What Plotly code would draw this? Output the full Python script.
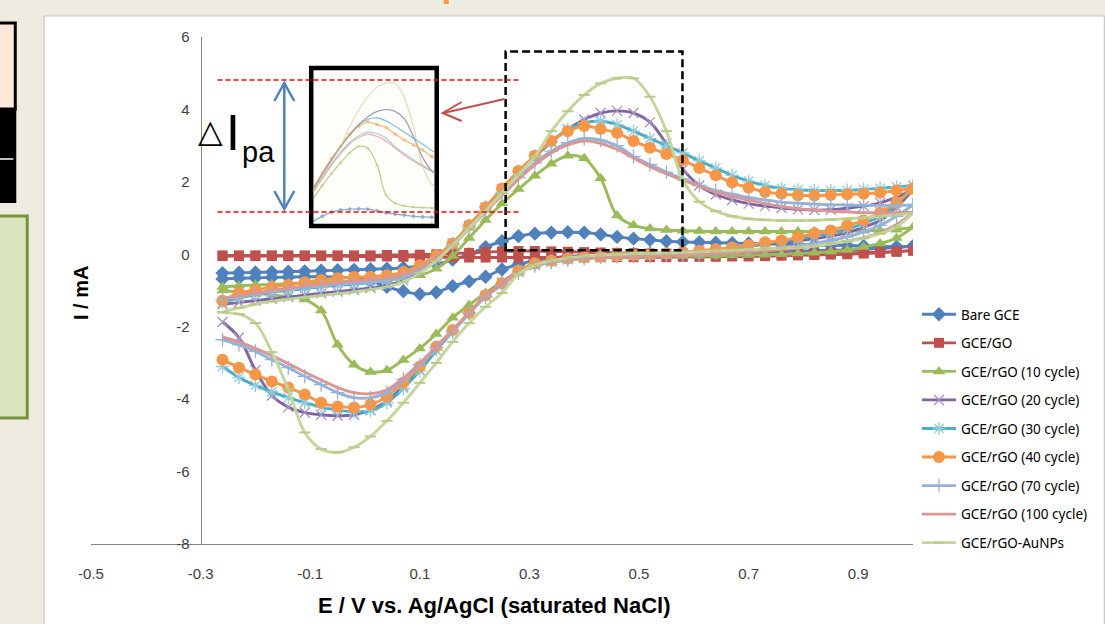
import plotly.graph_objects as go

# ---------------- data ----------------
E = [-0.26, -0.23, -0.20, -0.17, -0.14, -0.11, -0.08, -0.05, -0.02, 0.01, 0.04,
     0.07, 0.10, 0.13, 0.16, 0.19, 0.22, 0.25, 0.28, 0.31, 0.34, 0.37, 0.40, 0.43,
     0.46, 0.49, 0.52, 0.55, 0.58, 0.61, 0.64, 0.67, 0.70, 0.73, 0.76, 0.79, 0.82,
     0.85, 0.88, 0.91, 0.94, 0.97, 1.00]

bare_fwd = [-0.52, -0.51, -0.50, -0.49, -0.48, -0.47, -0.45, -0.44, -0.43, -0.41, -0.40, -0.37, -0.33, -0.27, -0.15, 0.0, 0.2, 0.36, 0.5, 0.57, 0.6, 0.61, 0.6, 0.55, 0.48, 0.43, 0.4, 0.36, 0.34, 0.33, 0.32, 0.31, 0.3, 0.29, 0.28, 0.27, 0.26, 0.25, 0.24, 0.23, 0.22, 0.21, 0.22]
bare_rev = [-0.68, -0.66, -0.65, -0.64, -0.63, -0.62, -0.62, -0.63, -0.66, -0.73, -0.9, -1.02, -1.1, -1.05, -0.88, -0.75, -0.62, -0.42, -0.28, -0.17, -0.1, -0.06, -0.03, -0.01, 0.0, 0.01, 0.02, 0.03, 0.04, 0.05, 0.05, 0.06, 0.06, 0.07, 0.08, 0.09, 0.1, 0.11, 0.12, 0.14, 0.16, 0.19, 0.22]

go_fwd = [-0.03, -0.03, -0.03, -0.03, -0.03, -0.03, -0.03, -0.03, -0.03, -0.03, -0.02, -0.02, -0.01, 0.0, 0.02, 0.04, 0.06, 0.08, 0.09, 0.09, 0.08, 0.07, 0.06, 0.05, 0.04, 0.03, 0.02, 0.02, 0.01, 0.01, 0.0, 0.0, 0.0, 0.0, 0.01, 0.01, 0.02, 0.03, 0.04, 0.05, 0.06, 0.08, 0.1]
go_rev = [-0.05, -0.05, -0.05, -0.05, -0.05, -0.05, -0.05, -0.05, -0.06, -0.06, -0.06, -0.07, -0.07, -0.08, -0.08, -0.09, -0.09, -0.09, -0.09, -0.09, -0.09, -0.08, -0.08, -0.08, -0.08, -0.08, -0.08, -0.08, -0.07, -0.07, -0.07, -0.06, -0.06, -0.05, -0.04, -0.03, -0.02, -0.01, 0.0, 0.02, 0.04, 0.07, 0.1]

c10_fwd = [-0.90, -0.87, -0.85, -0.83, -0.81, -0.79, -0.77, -0.75, -0.73, -0.72, -0.70, -0.66, -0.58, -0.4, -0.05, 0.45, 0.95, 1.4, 1.8, 2.17, 2.5, 2.72, 2.65, 2.1, 1.07, 0.8, 0.71, 0.67, 0.65, 0.64, 0.63, 0.63, 0.63, 0.63, 0.63, 0.63, 0.63, 0.63, 0.64, 0.65, 0.66, 0.68, 0.75]
c10_rev = [-1.0, -1.04, -1.08, -1.12, -1.17, -1.25, -1.55, -2.5, -3.05, -3.25, -3.2, -2.92, -2.6, -2.2, -1.75, -1.4, -1.07, -0.75, -0.5, -0.32, -0.22, -0.16, -0.12, -0.1, -0.08, -0.07, -0.06, -0.05, -0.05, -0.04, -0.04, -0.03, -0.02, -0.01, 0.0, 0.02, 0.04, 0.07, 0.12, 0.2, 0.3, 0.45, 0.75]

c20_fwd = [-1.38, -1.33, -1.28, -1.23, -1.18, -1.13, -1.08, -1.03, -0.98, -0.93, -0.86, -0.72, -0.5, -0.15, 0.3, 0.78, 1.28, 1.78, 2.25, 2.7, 3.1, 3.45, 3.72, 3.9, 3.96, 3.9, 3.65, 3.05, 2.35, 1.9, 1.65, 1.5, 1.4, 1.33, 1.28, 1.24, 1.22, 1.23, 1.27, 1.33, 1.42, 1.58, 1.78]
c20_rev = [-1.87, -2.3, -3.2, -3.9, -4.22, -4.37, -4.43, -4.46, -4.43, -4.3, -4.05, -3.65, -3.2, -2.65, -2.12, -1.62, -1.15, -0.78, -0.48, -0.3, -0.2, -0.14, -0.1, -0.08, -0.06, -0.04, -0.02, 0.0, 0.02, 0.05, 0.1, 0.15, 0.22, 0.28, 0.33, 0.38, 0.43, 0.5, 0.6, 0.75, 0.93, 1.3, 1.78]

c30_fwd = [-1.32, -1.2, -1.12, -1.05, -1.0, -0.95, -0.9, -0.86, -0.82, -0.78, -0.72, -0.6, -0.4, -0.08, 0.3, 0.8, 1.3, 1.8, 2.28, 2.72, 3.12, 3.45, 3.63, 3.68, 3.58, 3.4, 3.2, 3.0, 2.8, 2.58, 2.38, 2.18, 2.02, 1.9, 1.82, 1.78, 1.76, 1.76, 1.77, 1.79, 1.82, 1.86, 1.9]
c30_rev = [-3.1, -3.4, -3.62, -3.8, -3.96, -4.1, -4.22, -4.3, -4.35, -4.32, -4.1, -3.7, -3.22, -2.65, -2.13, -1.63, -1.15, -0.8, -0.47, -0.28, -0.19, -0.13, -0.1, -0.07, -0.05, -0.03, -0.01, 0.01, 0.04, 0.08, 0.12, 0.17, 0.23, 0.3, 0.36, 0.43, 0.5, 0.58, 0.7, 0.85, 1.05, 1.4, 1.9]

c40_fwd = [-1.28, -1.07, -0.99, -0.9, -0.85, -0.77, -0.71, -0.66, -0.63, -0.62, -0.58, -0.49, -0.3, -0.03, 0.3, 0.8, 1.3, 1.82, 2.3, 2.72, 3.13, 3.4, 3.54, 3.46, 3.35, 3.13, 2.94, 2.77, 2.6, 2.38, 2.18, 1.98, 1.84, 1.72, 1.67, 1.63, 1.62, 1.64, 1.66, 1.67, 1.7, 1.76, 1.81]
c40_rev = [-2.91, -3.13, -3.32, -3.51, -3.68, -3.87, -4.1, -4.2, -4.23, -4.15, -3.93, -3.54, -3.1, -2.55, -2.09, -1.62, -1.13, -0.8, -0.45, -0.25, -0.18, -0.12, -0.08, -0.06, -0.04, -0.02, 0.0, 0.03, 0.06, 0.1, 0.14, 0.19, 0.25, 0.33, 0.38, 0.47, 0.58, 0.66, 0.8, 0.93, 1.15, 1.43, 1.81]

c70_fwd = [-1.25, -1.18, -1.1, -1.03, -0.97, -0.92, -0.87, -0.83, -0.8, -0.77, -0.72, -0.62, -0.42, -0.12, 0.25, 0.72, 1.2, 1.68, 2.12, 2.52, 2.85, 3.08, 3.2, 3.15, 3.0, 2.7, 2.48, 2.27, 2.08, 1.9, 1.76, 1.66, 1.57, 1.5, 1.44, 1.41, 1.39, 1.37, 1.36, 1.35, 1.35, 1.35, 1.36]
c70_rev = [-2.36, -2.5, -2.68, -2.91, -3.13, -3.37, -3.6, -3.82, -3.96, -3.96, -3.82, -3.46, -3.05, -2.58, -2.14, -1.62, -1.18, -0.85, -0.52, -0.32, -0.22, -0.15, -0.11, -0.08, -0.06, -0.05, -0.04, -0.03, -0.01, 0.01, 0.04, 0.07, 0.1, 0.14, 0.18, 0.23, 0.3, 0.38, 0.48, 0.62, 0.8, 1.05, 1.36]

c100_fwd = [-1.22, -1.15, -1.07, -1.0, -0.94, -0.88, -0.83, -0.78, -0.74, -0.7, -0.65, -0.56, -0.38, -0.1, 0.25, 0.7, 1.17, 1.63, 2.07, 2.47, 2.8, 3.02, 3.13, 3.06, 2.9, 2.66, 2.42, 2.22, 2.05, 1.88, 1.72, 1.6, 1.5, 1.4, 1.32, 1.26, 1.22, 1.19, 1.17, 1.15, 1.15, 1.15, 1.16]
c100_rev = [-2.28, -2.42, -2.6, -2.8, -3.02, -3.25, -3.47, -3.68, -3.82, -3.85, -3.74, -3.42, -3.0, -2.55, -2.1, -1.6, -1.15, -0.82, -0.5, -0.3, -0.2, -0.14, -0.1, -0.08, -0.06, -0.05, -0.04, -0.03, -0.02, 0.0, 0.02, 0.04, 0.07, 0.1, 0.13, 0.17, 0.22, 0.28, 0.36, 0.46, 0.6, 0.82, 1.16]

au_fwd = [-1.6, -1.48, -1.38, -1.3, -1.24, -1.19, -1.14, -1.09, -1.04, -0.98, -0.9, -0.76, -0.52, -0.18, 0.25, 0.72, 1.2, 1.7, 2.2, 2.7, 3.4, 3.95, 4.4, 4.72, 4.86, 4.86, 4.35, 3.4, 2.05, 1.45, 1.19, 1.05, 0.98, 0.95, 0.93, 0.93, 0.94, 0.96, 0.98, 1.01, 1.05, 1.09, 1.13]
au_rev = [-1.6, -1.65, -1.9, -2.7, -3.73, -4.92, -5.38, -5.47, -5.33, -5.03, -4.6, -4.1, -3.55, -3.0, -2.42, -1.9, -1.45, -1.07, -0.55, -0.3, -0.18, -0.1, -0.05, -0.02, 0.0, 0.02, 0.03, 0.04, 0.05, 0.07, 0.09, 0.11, 0.13, 0.15, 0.17, 0.19, 0.23, 0.3, 0.36, 0.44, 0.57, 0.76, 1.13]

names = ["Bare GCE", "GCE/GO", "GCE/rGO (10 cycle)", "GCE/rGO (20 cycle)",
         "GCE/rGO (30 cycle)", "GCE/rGO (40 cycle)", "GCE/rGO (70 cycle)",
         "GCE/rGO (100 cycle)", "GCE/rGO-AuNPs"]
fwd_data = [bare_fwd, go_fwd, c10_fwd, c20_fwd, c30_fwd, c40_fwd, c70_fwd, c100_fwd, au_fwd]
rev_data = [bare_rev, go_rev, c10_rev, c20_rev, c30_rev, c40_rev, c70_rev, c100_rev, au_rev]

x_ticks = [-0.5, -0.3, -0.1, 0.1, 0.3, 0.5, 0.7, 0.9]
x_tick_text = ["-0.5", "-0.3", "-0.1", "0.1", "0.3", "0.5", "0.7", "0.9"]
y_ticks = [-8, -6, -4, -2, 0, 2, 4, 6]
y_tick_text = ["-8", "-6", "-4", "-2", "0", "2", "4", "6"]

# ---------------- styles ----------------
colors = ["#4F81BD", "#C0504D", "#9BBB59", "#8064A2", "#4BACC6", "#F79646",
          "#95B3D7", "#D99694", "#C3D69B"]
markers = [
    dict(symbol="diamond", size=11, color="#4F81BD"),
    dict(symbol="square", size=10, color="#C0504D"),
    dict(symbol="triangle-up", size=11, color="#9BBB59"),
    dict(symbol="x-thin", size=10, color="#A592C0", line=dict(width=1.3, color="#A592C0")),
    dict(symbol="asterisk", size=11, color="#8FCBDB", line=dict(width=1.3, color="#8FCBDB")),
    dict(symbol="circle", size=12, color="#F79646"),
    dict(symbol="cross-thin", size=10, color="#95B3D7", line=dict(width=1.3, color="#95B3D7")),
    None,
    dict(symbol="line-ew", size=8, color="#C3D69B", line=dict(width=2, color="#B5CC88")),
]

W, H = 1105, 624
L, R, T, B = 91, 189, 37, 80
PW, PH = W - L - R, H - T - B


def px(x):
    return (x - L) / PW


def py(y):
    return (H - B - y) / PH


fig = go.Figure()

for i, name in enumerate(names):
    xs = E + E[::-1]
    ys = fwd_data[i] + rev_data[i][::-1]
    kw = dict(mode="lines+markers", marker=markers[i]) if markers[i] else dict(mode="lines")
    fig.add_trace(go.Scatter(
        x=xs, y=ys, name=name, legendgroup=name,
        line=dict(color=colors[i], width=2.9, shape="spline", smoothing=1.0),
        **kw))

# inset (magnified peak region)
inset_markers = {0: "diamond", 2: "triangle-up", 5: "circle"}
for i, name in enumerate(names):
    if i == 1:
        continue
    xs = E + E[::-1]
    ys = fwd_data[i] + rev_data[i][::-1]
    kw = dict(mode="lines")
    if i in inset_markers:
        kw = dict(mode="lines+markers",
                  marker=dict(symbol=inset_markers[i], size=3.5, color=colors[i]))
    fig.add_trace(go.Scatter(
        x=xs, y=ys, xaxis="x2", yaxis="y2", showlegend=False, opacity=0.65,
        line=dict(color=colors[i], width=1.3, shape="spline", smoothing=1.0),
        hoverinfo="skip", **kw))

shapes = []
# slide background pieces
shapes.append(dict(type="rect", xref="paper", yref="paper", layer="below",
                   x0=px(44), x1=px(1108), y0=py(628), y1=py(16),
                   fillcolor="white", line=dict(color="#BFBFBF", width=1)))
shapes.append(dict(type="rect", xref="paper", yref="paper", layer="below",
                   x0=px(-5), x1=px(15), y0=py(109), y1=py(23),
                   fillcolor="#FDE9D9", line=dict(color="black", width=3)))
shapes.append(dict(type="rect", xref="paper", yref="paper", layer="below",
                   x0=px(-5), x1=px(16), y0=py(203), y1=py(108),
                   fillcolor="black", line=dict(width=0)))
shapes.append(dict(type="line", xref="paper", yref="paper", layer="below",
                   x0=px(-5), x1=px(13), y0=py(159), y1=py(159),
                   line=dict(color="white", width=1.5)))
shapes.append(dict(type="rect", xref="paper", yref="paper", layer="below",
                   x0=px(-5), x1=px(27), y0=py(418), y1=py(216),
                   fillcolor="#D7E4BD", line=dict(color="#77933C", width=3)))
shapes.append(dict(type="rect", xref="paper", yref="paper", layer="below",
                   x0=px(445), x1=px(450), y0=py(4), y1=py(-3),
                   fillcolor="#F79646", line=dict(width=0)))
# inset frame
shapes.append(dict(type="rect", xref="paper", yref="paper", layer="below",
                   x0=px(312), x1=px(438), y0=py(226), y1=py(68),
                   fillcolor="#FEFEFA", line=dict(color="black", width=4.5)))
# dashed box on the peak region
shapes.append(dict(type="rect", xref="x", yref="y", layer="above",
                   x0=0.2566, x1=0.5793, y0=0.11, y1=5.6,
                   line=dict(color="black", width=2.5, dash="8px,4px")))
# red dashed guide lines
for yy in (80, 212):
    shapes.append(dict(type="line", xref="paper", yref="paper", layer="above",
                       x0=px(218), x1=px(520), y0=py(yy), y1=py(yy),
                       line=dict(color="#FF0000", width=1.5, dash="5px,3px")))
# blue double arrow
shapes.append(dict(type="line", xref="paper", yref="paper", layer="above",
                   x0=px(285), x1=px(285), y0=py(84), y1=py(208),
                   line=dict(color="#4F81BD", width=2.5)))
shapes.append(dict(type="path", xref="paper", yref="paper", layer="above",
                   path=f"M {px(275)},{py(101)} L {px(285)},{py(83)} L {px(295)},{py(101)}",
                   line=dict(color="#4F81BD", width=2.5)))
shapes.append(dict(type="path", xref="paper", yref="paper", layer="above",
                   path=f"M {px(275)},{py(191)} L {px(285)},{py(209)} L {px(295)},{py(191)}",
                   line=dict(color="#4F81BD", width=2.5)))
# red arrow to inset
shapes.append(dict(type="line", xref="paper", yref="paper", layer="above",
                   x0=px(506), x1=px(445), y0=py(99), y1=py(113),
                   line=dict(color="#C0504D", width=2)))
shapes.append(dict(type="path", xref="paper", yref="paper", layer="above",
                   path=f"M {px(463)},{py(102)} L {px(444)},{py(113)} L {px(463)},{py(121)}",
                   line=dict(color="#C0504D", width=2)))

tickfont = dict(family="Liberation Sans Narrow, Arial Narrow, Liberation Sans, Arial",
                size=15, color="#404040")

annotations = [
    dict(text="E / V vs. Ag/AgCl (saturated NaCl)", xref="paper", yref="paper",
         x=px(495), y=py(605), showarrow=False, xanchor="center", yanchor="middle",
         font=dict(family="Liberation Sans, Arial", size=22, color="black", weight="bold")),
    dict(text="I / mA", xref="paper", yref="paper", x=px(81), y=py(293), textangle=-90,
         showarrow=False, xanchor="center", yanchor="middle",
         font=dict(family="Liberation Sans, Arial", size=20, color="black", weight="bold")),
    dict(text="△", xref="paper", yref="paper", x=px(211), y=py(131), showarrow=False,
         xanchor="center", yanchor="middle",
         font=dict(family="DejaVu Sans", size=32, color="black")),
    dict(text="I", xref="paper", yref="paper", x=px(234), y=py(133), showarrow=False,
         xanchor="center", yanchor="middle",
         font=dict(family="Liberation Sans, Arial", size=50, color="black")),
    dict(text="pa", xref="paper", yref="paper", x=px(241), y=py(152), showarrow=False,
         xanchor="left", yanchor="middle",
         font=dict(family="Liberation Sans, Arial", size=29, color="black")),
]

fig.update_layout(
    width=W, height=H,
    margin=dict(l=L, r=R, t=T, b=B, pad=0),
    paper_bgcolor="#EEECE1", plot_bgcolor="rgba(0,0,0,0)",
    showlegend=True,
    xaxis=dict(domain=[0, 1], range=[-0.5, 1.0], tickvals=x_ticks, ticktext=x_tick_text,
               showline=True, linecolor="#868686", linewidth=1, showgrid=False,
               zeroline=False, ticks="", tickfont=tickfont, ticklabelstandoff=16,
               anchor="y"),
    yaxis=dict(domain=[0, 1], range=[-8, 6], tickvals=y_ticks, ticktext=y_tick_text,
               anchor="free", position=0.2 / 1.5, showline=True, linecolor="#868686",
               linewidth=1, showgrid=False, zeroline=False, ticks="", tickfont=tickfont,
               ticklabelstandoff=8),
    xaxis2=dict(domain=[px(314), px(436)], range=[0.22, 0.62], visible=False,
                anchor="y2", showgrid=False, zeroline=False),
    yaxis2=dict(domain=[py(224), py(70)], range=[0.1, 5.3], visible=False,
                anchor="x2", showgrid=False, zeroline=False),
    legend=dict(x=px(920), y=py(299), xanchor="left", yanchor="top",
                bgcolor="rgba(0,0,0,0)", tracegroupgap=8, itemwidth=34,
                font=dict(family="Noto Sans, Open Sans", size=13.5, color="black")),
    shapes=shapes,
    annotations=annotations,
)

fig.write_html("out.html")
